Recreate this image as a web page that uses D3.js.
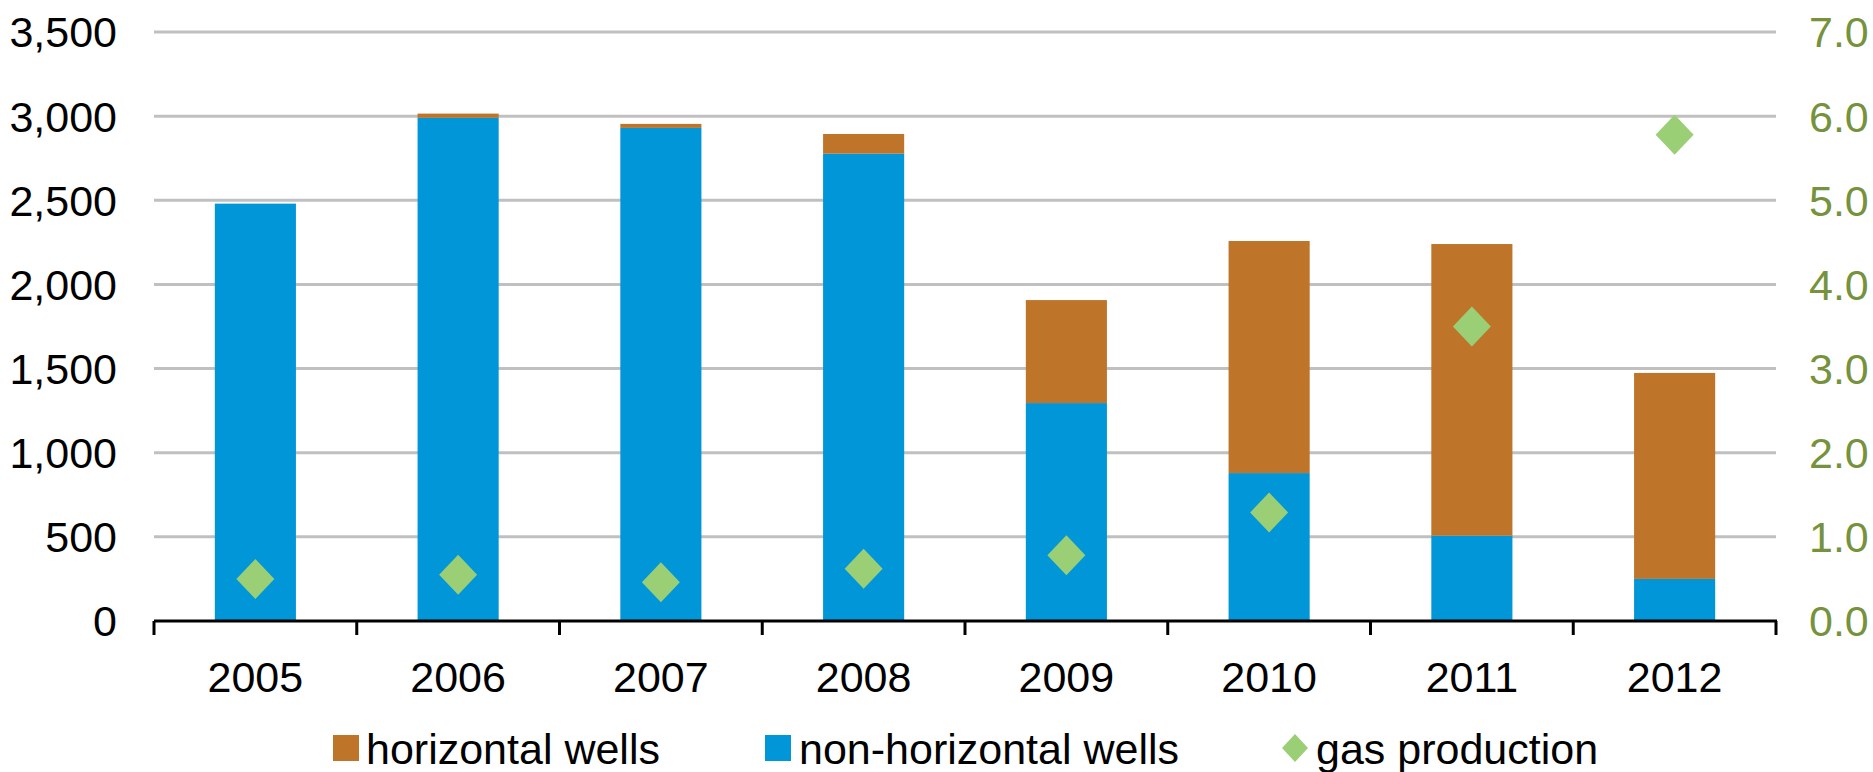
<!DOCTYPE html>
<html>
<head>
<meta charset="utf-8">
<script src="https://cdn.jsdelivr.net/npm/d3@7"></script>
<style>
  body { margin: 0; background: #fff; }
  svg { display: block; font-family: "Liberation Sans", Arial, sans-serif; }
</style>
</head>
<body>
<svg id="canvas"></svg>
<script>
const years = ["2005", "2006", "2007", "2008", "2009", "2010", "2011", "2012"];
const nonHorizontal = [2480, 2990, 2930, 2777, 1295, 879, 507, 250];
const horizontal = [0, 25, 24, 117, 612, 1379, 1733, 1224];
const gasProduction = [0.50, 0.55, 0.46, 0.62, 0.78, 1.29, 3.50, 5.78];
const leftTicks = [0, 500, 1000, 1500, 2000, 2500, 3000, 3500];
const rightTicks = [0, 1, 2, 3, 4, 5, 6, 7];
const legendLabels = ["horizontal wells", "non-horizontal wells", "gas production"];

const width = 1873;
const height = 772;
const colors = { horiz: "#BE7429", nonHoriz: "#0096D8", gas: "#9BCF75", grid: "#C0C0C0", right: "#76923C" };

const svg = d3.select("#canvas")
  .attr("width", width)
  .attr("height", height);

const x = d3.scaleBand()
  .domain(years)
  .range([154, 1776])
  .paddingInner(0.6)
  .paddingOuter(0.3);

const yL = d3.scaleLinear().domain([0, 3500]).range([621, 32]);
const yR = d3.scaleLinear().domain([0, 7]).range([621, 32]);

// gridlines
svg.append("g").selectAll("line")
  .data(leftTicks.filter(d => d > 0))
  .enter().append("line")
  .attr("x1", 154).attr("x2", 1776)
  .attr("y1", d => yL(d)).attr("y2", d => yL(d))
  .attr("stroke", colors.grid)
  .attr("stroke-width", 3);

// left labels
svg.append("g").selectAll("text")
  .data(leftTicks)
  .enter().append("text")
  .attr("x", 117)
  .attr("y", d => yL(d))
  .attr("dy", "0.36em")
  .attr("text-anchor", "end")
  .attr("font-size", 43)
  .attr("fill", "#000")
  .text(d => d3.format(",")(d));

// right labels
svg.append("g").selectAll("text")
  .data(rightTicks)
  .enter().append("text")
  .attr("x", 1809)
  .attr("y", d => yR(d))
  .attr("dy", "0.36em")
  .attr("text-anchor", "start")
  .attr("font-size", 43)
  .attr("fill", colors.right)
  .text(d => d3.format(".1f")(d));

const rows = years.map((yr, i) => ({ year: yr, non: nonHorizontal[i], hor: horizontal[i], gas: gasProduction[i] }));

// stacked bars
const bars = svg.append("g");
bars.selectAll(".non")
  .data(rows)
  .enter().append("rect")
  .attr("class", "non")
  .attr("x", d => x(d.year))
  .attr("y", d => yL(d.non))
  .attr("width", x.bandwidth())
  .attr("height", d => yL(0) - yL(d.non))
  .attr("fill", colors.nonHoriz);

bars.selectAll(".hor")
  .data(rows.filter(d => d.hor > 0))
  .enter().append("rect")
  .attr("class", "hor")
  .attr("x", d => x(d.year))
  .attr("y", d => yL(d.non + d.hor))
  .attr("width", x.bandwidth())
  .attr("height", d => yL(d.non) - yL(d.non + d.hor))
  .attr("fill", colors.horiz);

// x axis line and ticks
const step = x.step();
const edge = (step - x.bandwidth()) / 2;
const tickPos = years.map(yr => x(yr) - edge).concat([x(years[years.length - 1]) + x.bandwidth() + edge]);

svg.append("line")
  .attr("x1", 154).attr("x2", 1777)
  .attr("y1", yL(0)).attr("y2", yL(0))
  .attr("stroke", "#000").attr("stroke-width", 3);

svg.append("g").selectAll("line")
  .data(tickPos)
  .enter().append("line")
  .attr("x1", d => d).attr("x2", d => d)
  .attr("y1", yL(0)).attr("y2", yL(0) + 14)
  .attr("stroke", "#000").attr("stroke-width", 3);

svg.append("g").selectAll("text")
  .data(years)
  .enter().append("text")
  .attr("x", d => x(d) + x.bandwidth() / 2)
  .attr("y", 692)
  .attr("text-anchor", "middle")
  .attr("font-size", 43)
  .attr("fill", "#000")
  .text(d => d);

// gas production diamonds
const diamond = (cx, cy, w, h) => `M${cx},${cy - h / 2}L${cx + w / 2},${cy}L${cx},${cy + h / 2}L${cx - w / 2},${cy}Z`;
svg.append("g").selectAll("path")
  .data(rows)
  .enter().append("path")
  .attr("d", d => diamond(x(d.year) + x.bandwidth() / 2, yR(d.gas), 38, 40))
  .attr("fill", colors.gas);

// legend
const legend = svg.append("g");
legend.append("rect").attr("x", 333).attr("y", 735).attr("width", 26).attr("height", 26).attr("fill", colors.horiz);
legend.append("text").attr("x", 366).attr("y", 764).attr("font-size", 43).text(legendLabels[0]);
legend.append("rect").attr("x", 765).attr("y", 735).attr("width", 26).attr("height", 26).attr("fill", colors.nonHoriz);
legend.append("text").attr("x", 799).attr("y", 764).attr("font-size", 43).text(legendLabels[1]);
legend.append("path").attr("d", diamond(1295, 748, 26, 28)).attr("fill", colors.gas);
legend.append("text").attr("x", 1316).attr("y", 764).attr("font-size", 43).text(legendLabels[2]);
</script>
</body>
</html>
